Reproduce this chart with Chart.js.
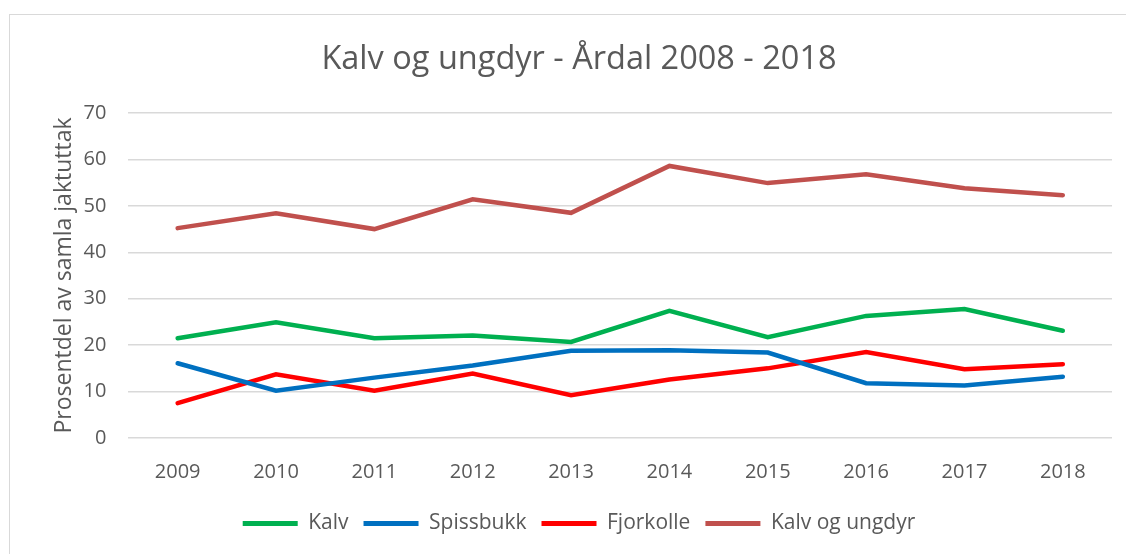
<!DOCTYPE html>
<html>
<head>
<meta charset="utf-8">
<script src="https://cdn.jsdelivr.net/npm/chart.js@4"></script>
<style>
  html, body { margin: 0; padding: 0; background: #fff; }
  #wrap { position: absolute; left: 0; top: 0; width: 1126px; height: 554px; }
  #frame { position: absolute; left: 9px; top: 14px; width: 1130px; height: 600px; border: 1px solid #d9d9d9; }
</style>
</head>
<body>
<div id="frame"></div>
<div id="wrap"><canvas id="chart"></canvas></div>
<script>
var years = ["2009", "2010", "2011", "2012", "2013", "2014", "2015", "2016", "2017", "2018"];
var kalv = [21.5, 24.9, 21.5, 22.1, 20.7, 27.4, 21.7, 26.3, 27.8, 23.1];
var spissbukk = [16.1, 10.2, 13.0, 15.6, 18.8, 18.9, 18.4, 11.8, 11.3, 13.2];
var fjorkolle = [7.5, 13.7, 10.2, 13.9, 9.2, 12.6, 15.0, 18.5, 14.8, 15.9];
var kalvUngdyr = [45.2, 48.4, 45.0, 51.4, 48.5, 58.6, 54.9, 56.8, 53.8, 52.3];

var grey = "#595959";
var font = "'Open Sans', sans-serif";

function line(label, values, color) {
  return {
    label: label,
    data: values,
    borderColor: color,
    backgroundColor: color,
    borderWidth: 4.5,
    pointRadius: 0,
    tension: 0,
    borderCapStyle: "round",
    borderJoinStyle: "miter"
  };
}

var ctx = document.getElementById("chart");

var chart = new Chart(ctx, {
  type: "line",
  data: {
    labels: years,
    datasets: [
      line("Kalv", kalv, "#00b050"),
      line("Spissbukk", spissbukk, "#0070c0"),
      line("Fjorkolle", fjorkolle, "#ff0000"),
      line("Kalv og ungdyr", kalvUngdyr, "#c0504d")
    ]
  },
  options: {
    responsive: true,
    maintainAspectRatio: false,
    animation: false,
    layout: { padding: { left: 46, right: 14, top: 0, bottom: 10 } },
    plugins: {
      title: {
        display: true,
        text: "Kalv og ungdyr - Årdal 2008 - 2018",
        color: grey,
        font: { family: font, size: 32.5, weight: "normal" },
        padding: { top: 40.5, bottom: 33.5 }
      },
      legend: {
        position: "bottom",
        labels: {
          color: grey,
          font: { family: font, size: 21 },
          boxWidth: 55,
          boxHeight: 5,
          padding: 15,
          generateLabels: function (chart) {
            var items = Chart.defaults.plugins.legend.labels.generateLabels(chart);
            items.forEach(function (it) { it.lineWidth = 0; });
            return items;
          }
        }
      },
      tooltip: { enabled: false }
    },
    scales: {
      x: {
        offset: true,
        grid: { display: false },
        border: { display: false },
        ticks: { color: grey, font: { family: font, size: 20 }, padding: 14 }
      },
      y: {
        min: 0,
        max: 70,
        grid: { color: "#d9d9d9", lineWidth: 1.5, drawTicks: false },
        border: { display: false },
        ticks: { stepSize: 10, color: grey, font: { family: font, size: 20 }, padding: 22 },
        title: {
          display: true,
          text: "Prosentdel av samla jaktuttak",
          color: grey,
          font: { family: font, size: 23 },
          padding: { top: 5, bottom: -17 }
        }
      }
    }
  }
});
</script>
</body>
</html>
